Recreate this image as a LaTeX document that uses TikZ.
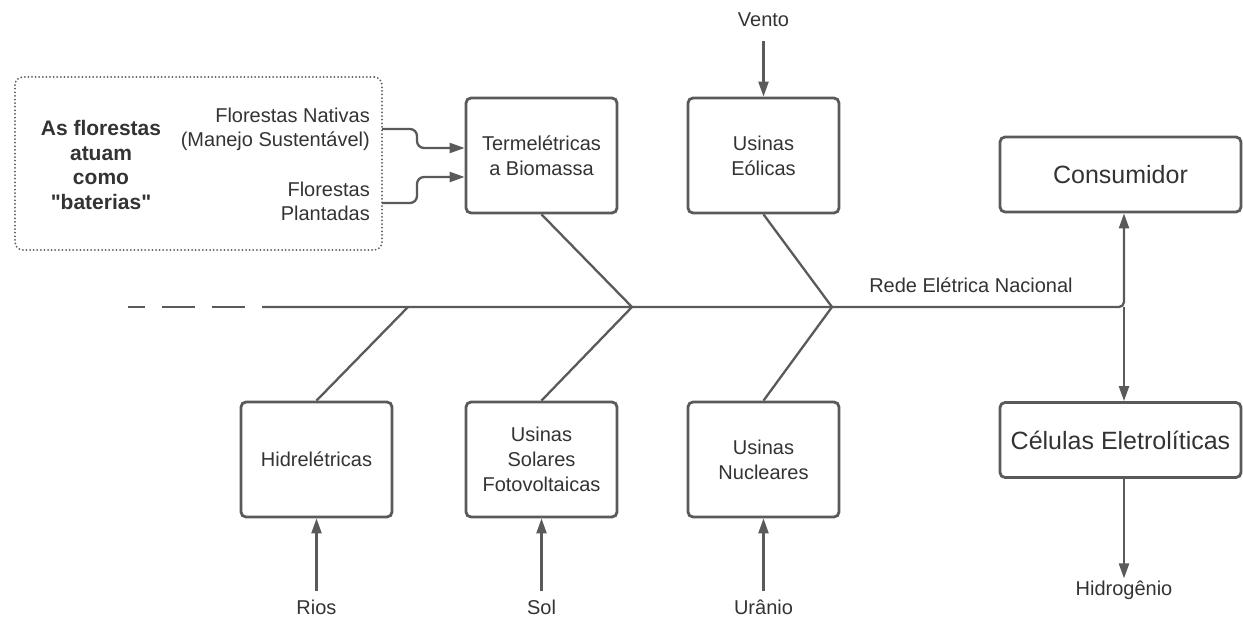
\documentclass[tikz,border=0pt]{standalone}
\usepackage{fontspec}
\setmainfont{Liberation Sans}[Ligatures=TeXOff]
\usetikzlibrary{arrows.meta}
\definecolor{ln}{HTML}{5A5A5A}
\definecolor{tx}{HTML}{333333}
\begin{document}
\begin{tikzpicture}[x=1pt,y=-1pt,
  box/.style={draw=ln, line width=2.8pt, rounded corners=5pt, minimum width=151pt, minimum height=115pt, align=center, text=tx, font=\fontsize{20}{25}\selectfont, inner sep=0pt},
  bigbox/.style={draw=ln, line width=2.8pt, rounded corners=5pt, minimum width=241pt, minimum height=75pt, text=tx, font=\fontsize{25}{30}\selectfont, inner sep=0pt},
  lbl/.style={text=tx, font=\fontsize{20}{24}\selectfont, inner sep=0pt},
  conn/.style={draw=ln, line width=2.3pt},
  arr/.style={conn, -{Triangle[width=10pt,length=15pt]}},
  dotbox/.style={draw=ln, line width=2pt, dash pattern=on 0pt off 3.6pt, line cap=round, rounded corners=8pt, minimum width=367pt, minimum height=173pt, inner sep=0pt},
]
\useasboundingbox (0,0) rectangle (1243,618);

% dotted group
\node[dotbox] (grp) at (198.5,163.5) {};
\node[text=tx, font=\fontsize{21}{24.5}\selectfont\bfseries, align=center, inner sep=0pt] (bat) at (101,165) {As florestas\\atuam\\como\\"baterias"};
\node[lbl, align=right, anchor=east] (fn) at (370,129) {Florestas Nativas\\(Manejo Sustentável)};
\node[lbl, align=right, anchor=east] (fp) at (370,201) {Florestas\\Plantadas};

% boxes
\node[box] (tb) at (541.5,155.5) {Termelétricas\\a Biomassa};
\node[box] (eol) at (763.5,155.5) {Usinas\\Eólicas};
\node[box] (hid) at (316.5,459.5) {Hidrelétricas};
\node[box] (sol) at (541.5,459.5) {Usinas\\Solares\\Fotovoltaicas};
\node[box] (nuc) at (763.5,459.5) {Usinas\\Nucleares};
\node[bigbox] (cons) at (1120.5,174.5) {Consumidor};
\node[bigbox] (cel) at (1120.5,440) {Células Eletrolíticas};

% labels
\node[lbl] (vento) at (763.5,20) {Vento};
\node[lbl] (rios) at (316.5,607) {Rios};
\node[lbl] (solx) at (541.5,607) {Sol};
\node[lbl] (ura) at (763.5,607) {Urânio};
\node[lbl] (h2) at (1124,590) {Hidrogênio};
\node[lbl] (rede) at (971,285) {Rede Elétrica Nacional};

% spine coordinates
\coordinate (s0) at (128,307);
\coordinate (s1) at (262,307);
\coordinate (j1) at (408,307);
\coordinate (j2) at (632,307);
\coordinate (j3) at (832,307);
\coordinate (jr) at (1124,307);

% spine
\draw[conn, dash pattern=on 33pt off 17pt, dash phase=16pt] (s0) -- (s1);
\draw[arr, rounded corners=5pt] (s1) -- (jr) -- (jr |- cons.south);
\draw[arr] (jr) -- (jr |- cel.north);
\draw[arr, shorten >=2pt] (cel.south -| jr) -- (h2);

% branches
\draw[conn] (tb.south) -- (j2);
\draw[conn] (eol.south) -- (j3);
\draw[conn] (hid.north) -- (j1);
\draw[conn] (sol.north) -- (j2);
\draw[conn] (nuc.north) -- (j3);

% inputs
\draw[arr, shorten <=14pt] (vento) -- (eol);
\draw[arr, shorten <=8pt] (rios) -- (hid);
\draw[arr, shorten <=8pt] (solx) -- (sol);
\draw[arr, shorten <=8pt] (ura) -- (nuc);

% forests to biomass
\draw[arr, rounded corners=7pt] ([xshift=12pt]fn.east) -- ++(35,0) |- ([yshift=7.5pt]tb.west);
\draw[arr, rounded corners=7pt] ([xshift=12pt,yshift=-2pt]fp.east) -- ++(35,0) |- ([yshift=-21.5pt]tb.west);
\end{tikzpicture}
\end{document}
